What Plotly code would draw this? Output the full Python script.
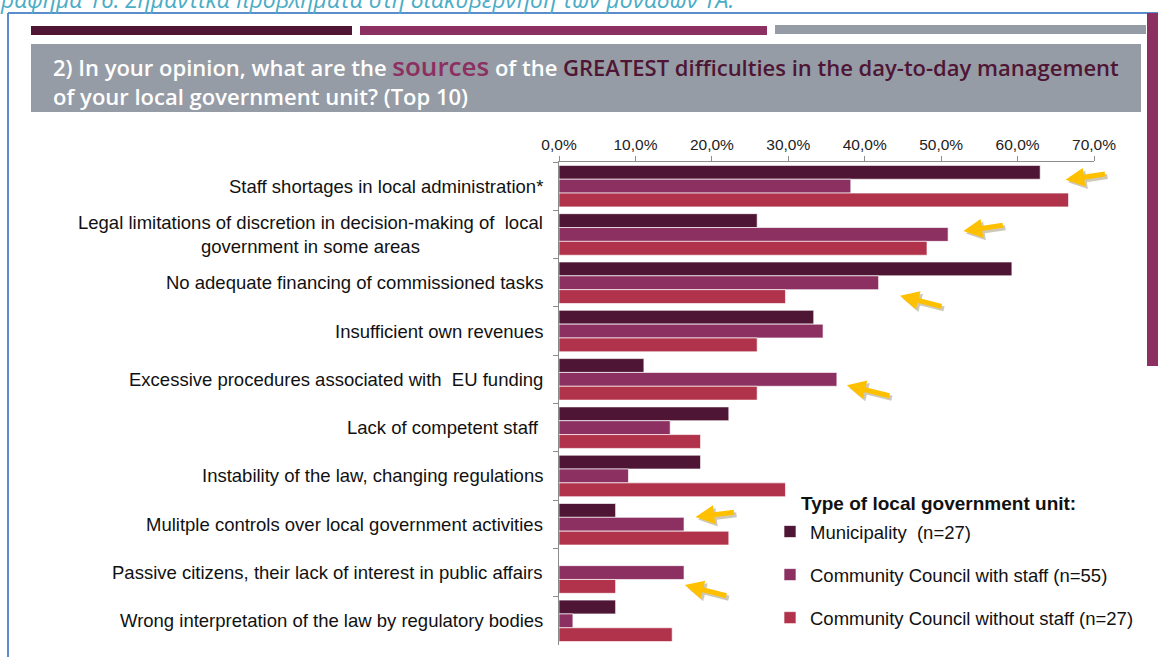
import plotly.graph_objects as go

# ---- data -------------------------------------------------------------
categories = [
    "Staff shortages in local administration*",
    "Legal limitations of discretion in decision-making of  local<br>government in some areas",
    "No adequate financing of commissioned tasks",
    "Insufficient own revenues",
    "Excessive procedures associated with  EU funding",
    "Lack of competent staff ",
    "Instability of the law, changing regulations",
    "Mulitple controls over local government activities",
    "Passive citizens, their lack of interest in public affairs",
    "Wrong interpretation of the law by regulatory bodies",
]
series_names = [
    "Municipality  (n=27)",
    "Community Council with staff (n=55)",
    "Community Council without staff (n=27)",
]
municipality = [62.96, 25.93, 59.26, 33.33, 11.11, 22.22, 18.52, 7.41, 0.0, 7.41]
council_with_staff = [38.18, 50.91, 41.82, 34.55, 36.36, 14.55, 9.09, 16.36, 16.36, 1.82]
council_without_staff = [66.67, 48.15, 29.63, 25.93, 25.93, 18.52, 29.63, 22.22, 7.41, 14.81]
x_ticks = [0, 10, 20, 30, 40, 50, 60, 70]
x_tick_labels = [f"{v:.1f}%".replace(".", ",") for v in x_ticks]

# highlighted answers: (category index, series index)
highlights = [(0, 2), (1, 1), (2, 1), (4, 1), (7, 1), (8, 1)]

# ---- styling ----------------------------------------------------------
W, H = 1158, 657
L, R, T, B = 559, 1094, 162, 645
colors = ["#4E1634", "#8C3061", "#B0334B"]
label_font = "Liberation Sans, Arial, sans-serif"
banner_font = "Open Sans, Noto Sans, sans-serif"

# arrow placement next to each highlighted bar: (gap after bar end in %,
# vertical offset from the category centre, tail offset in px)
arrow_style = [
    (-0.4, -0.13, (41, -6)),
    (2.0, -0.07, (41, -6)),
    (2.8, 0.27, (43, 11)),
    (1.3, 0.12, (44, 11)),
    (1.5, -0.15, (40, -5)),
    (0.1, 0.26, (43, 11)),
]


def px(x):
    return (x - L) / (R - L)


def py(y):
    return (B - y) / (B - T)


fig = go.Figure()
for name, vals, col in zip(series_names,
                           [municipality, council_with_staff, council_without_staff],
                           colors):
    fig.add_trace(go.Bar(
        y=categories, x=vals, name=name, orientation="h",
        marker=dict(color=col, line=dict(color="rgba(255,255,255,0.65)", width=1)),
        legendgroup=name,
    ))

shapes = []


def rect(x0, y0, x1, y1, color):
    shapes.append(dict(type="rect", xref="paper", yref="paper",
                       x0=px(x0), x1=px(x1), y0=py(y1), y1=py(y0),
                       fillcolor=color, line=dict(width=0), layer="below"))


def line(x0, y0, x1, y1, color, w):
    shapes.append(dict(type="line", xref="paper", yref="paper",
                       x0=px(x0), x1=px(x1), y0=py(y0), y1=py(y1),
                       line=dict(color=color, width=w), layer="below"))


# page frame and decorative strips
line(8, 13, W, 13, "#5B8CCB", 2)
line(8, 13, 8, H, "#5B8CCB", 2)
rect(31, 26, 352, 35, "#4E1634")
rect(360, 26, 767, 35, "#8C3061")
rect(775, 25, 1146, 34, "#969CA5")
rect(1147, 13, W, 366, "#8C3061")
rect(31, 44, 1141, 112, "#969CA5")

annotations = []

# chart caption above the frame
annotations.append(dict(
    xref="paper", yref="paper", x=px(736), y=py(-1), xanchor="right", yanchor="middle",
    text="Γράφημα 16: Σημαντικά προβλήματα στη διακυβέρνηση των μονάδων ΤΑ.",
    showarrow=False, font=dict(family=banner_font, size=23, color="#4BACC6", style="italic"),
))

# question banner
annotations.append(dict(
    xref="paper", yref="paper", x=px(51), y=py(80), xanchor="left", yanchor="middle",
    text=("2) In your opinion, what are the "
          "<span style='color:#8C3061;font-size:26px'>sources</span>"
          " of the <span style='color:#4E1634'>GREATEST difficulties in the day-to-day management</span>"
          "<br>of your local government unit? (Top 10)"),
    align="left", showarrow=False,
    font=dict(family=banner_font, size=22, color="white", weight=600),
))

# category labels
for cat in categories:
    annotations.append(dict(
        xref="paper", yref="y", x=px(545), y=cat, xanchor="right", yanchor="middle",
        text=cat, align="center", showarrow=False,
        font=dict(family=label_font, size=18.5, color="#111111"),
    ))

# legend heading
annotations.append(dict(
    xref="paper", yref="paper", x=px(799), y=py(503), xanchor="left", yanchor="middle",
    text="<b>Type of local government unit:</b>", showarrow=False,
    font=dict(family=label_font, size=19, color="#111111"),
))

# yellow pointer arrows next to the highlighted bars
all_series = [municipality, council_with_staff, council_without_staff]
for (ci, si), (gap, dy, (ax, ay)) in zip(highlights, arrow_style):
    head_x = all_series[si][ci] + gap
    head_y = ci + dy
    for shift, col in ((2.5, "rgba(80,60,0,0.28)"), (0, "#FFC000")):
        annotations.append(dict(
            xref="x", yref="y", x=head_x, y=head_y, ax=ax, ay=ay,
            text="", showarrow=True, arrowhead=2, arrowsize=0.75, arrowwidth=5,
            arrowcolor=col, standoff=0, xshift=shift, yshift=-shift,
        ))

fig.update_layout(
    width=W, height=H,
    margin=dict(l=L, r=W - R, t=T, b=H - B, pad=0),
    paper_bgcolor="white", plot_bgcolor="white",
    barmode="group", bargap=0.14, bargroupgap=0,
    shapes=shapes, annotations=annotations,
    showlegend=True,
    legend=dict(
        x=px(770), y=py(513), xanchor="left", yanchor="top",
        font=dict(family=label_font, size=18.5, color="#111111"),
        bgcolor="rgba(0,0,0,0)", traceorder="grouped", tracegroupgap=16,
    ),
    xaxis=dict(
        side="top", range=[0, 70], tickvals=x_ticks, ticktext=x_tick_labels,
        showgrid=False, zeroline=False, showline=True, linecolor="#8C8C8C", linewidth=1,
        ticks="outside", ticklen=5, tickcolor="#8C8C8C",
        tickfont=dict(family=label_font, size=15.5, color="#222222"),
    ),
    yaxis=dict(
        type="category", categoryorder="array", categoryarray=categories,
        autorange="reversed", showticklabels=False,
        showgrid=False, zeroline=False, showline=True, linecolor="#8C8C8C", linewidth=1,
        ticks="outside", ticklen=5, tickcolor="#8C8C8C", tickson="boundaries",
    ),
)

fig.write_html("out.html")
